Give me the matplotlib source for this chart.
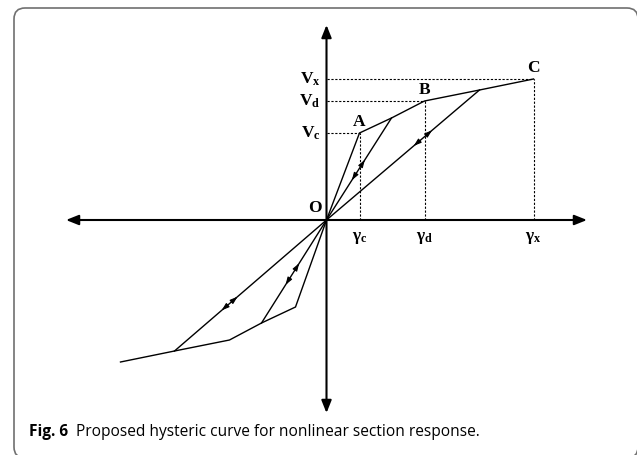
import numpy as np
import matplotlib.pyplot as plt
from matplotlib.patches import FancyBboxPatch

plt.rcParams['mathtext.fontset'] = 'custom'
plt.rcParams['mathtext.rm'] = 'Liberation Serif'
plt.rcParams['mathtext.bf'] = 'Liberation Serif:bold'

# Skeleton (backbone) curve, positive branch: O -> A -> A' -> B -> B' -> C
gamma_pos = [0, 33, 65, 98, 153, 207]
v_pos = [0, 87, 102, 119, 130, 141]
# negative branch
gamma_neg = [0, -31, -65, -97, -152, -206]
v_neg = [0, -87, -103, -120, -131, -142]

# unloading / reloading lines through the origin (end points on the skeleton)
unload_ends = [(65, 102), (153, 130), (-65, -103), (-152, -131)]
# where the arrow heads sit along each unloading line (fraction of its length)
arrow_fracs = [(0.59, 0.39), (0.69, 0.57), (0.63, 0.42), (0.69, 0.585)]

# characteristic points
pt_names = ['A', 'B', 'C']
pt_gamma = [33, 98, 207]
pt_v = [87, 119, 141]
v_labels = [r'$\mathbf{V_c}$', r'$\mathbf{V_d}$', r'$\mathbf{V_x}$']
g_labels = [r'$\mathbf{γ_c}$', r'$\mathbf{γ_d}$', r'$\mathbf{γ_x}$']

fig = plt.figure(figsize=(6.37, 4.55), dpi=100)
ax = fig.add_axes([0, 0, 1, 1])
ax.set_xlim(-326.5, 310.5)
ax.set_ylim(-235, 220)
ax.axis('off')

# rounded grey frame
frame = FancyBboxPatch((-312.5, -238), 624, 450,
                       boxstyle='round,pad=0,rounding_size=11',
                       fc='none', ec='#707070', lw=1.2, clip_on=False)
ax.add_patch(frame)

# coordinate axes with arrow heads
axis_style = dict(arrowstyle='-|>,head_length=0.75,head_width=0.3',
                  color='black', lw=1.5, shrinkA=0, shrinkB=0)
ax.annotate('', xy=(260.5, 0), xytext=(0, 0), arrowprops=axis_style)
ax.annotate('', xy=(-260.5, 0), xytext=(0, 0), arrowprops=axis_style)
ax.annotate('', xy=(0, 195), xytext=(0, 0), arrowprops=axis_style)
ax.annotate('', xy=(0, -193), xytext=(0, 0), arrowprops=axis_style)

# backbone curves
ax.plot(gamma_pos, v_pos, color='black', lw=1.0, solid_joinstyle='miter')
ax.plot(gamma_neg, v_neg, color='black', lw=1.0, solid_joinstyle='miter')

# unloading lines with small arrow heads pointing away from each other
small_style = dict(arrowstyle='-|>,head_length=0.45,head_width=0.15',
                   color='black', lw=0.8, shrinkA=0, shrinkB=0)
for (ge, ve), (f_out, f_in) in zip(unload_ends, arrow_fracs):
    ax.plot([0, ge], [0, ve], color='black', lw=1.0)
    d = np.array([ge, ve], dtype=float)
    ax.annotate('', xy=d * f_out, xytext=d * (f_out - 0.04), arrowprops=small_style)
    ax.annotate('', xy=d * f_in, xytext=d * (f_in + 0.04), arrowprops=small_style)

# dashed guides and labels
for name, g, v, vl, gl in zip(pt_names, pt_gamma, pt_v, v_labels, g_labels):
    ax.plot([0, g], [v, v], color='black', lw=0.8, dashes=(2, 1.5))
    ax.plot([g, g], [0, v], color='black', lw=0.8, dashes=(2, 1.5))
    ax.text(g, v + 3, name, family='Liberation Serif', weight='bold',
            fontsize=12.5, ha='center', va='bottom')
    ax.text(-6, v, vl, fontsize=12.5, ha='right', va='center')
    ax.text(g, -8, gl, fontsize=12.5, ha='center', va='top')

ax.text(-5, 4, 'O', family='Liberation Serif', weight='bold', fontsize=12.5,
        ha='right', va='bottom')

# caption
cap = ax.text(-297.5, -212, 'Fig. 6', family='Open Sans', weight='bold',
              fontsize=11.2, ha='left', va='center')
ax.annotate('Proposed hysteric curve for nonlinear section response.',
            xy=(1, 0.5), xycoords=cap, xytext=(6, 0), textcoords='offset points',
            family='Open Sans', fontsize=11.2, ha='left', va='center')

fig.savefig('out.png', dpi=100)
